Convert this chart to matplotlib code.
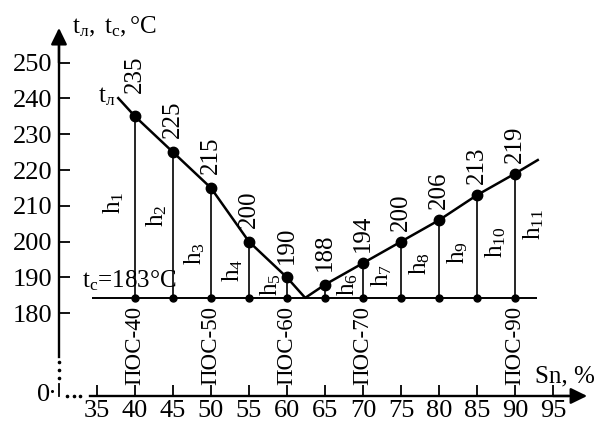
import matplotlib.pyplot as plt

plt.rcParams['font.family'] = 'Liberation Serif'
plt.rcParams['mathtext.fontset'] = 'custom'
plt.rcParams['mathtext.rm'] = 'Liberation Serif'
plt.rcParams['mathtext.it'] = 'Liberation Serif:italic'
plt.rcParams['font.size'] = 18

# composition (% Sn) and liquidus temperatures
sn = [40, 45, 50, 55, 60, 65, 70, 75, 80, 85, 90]
t_liq = [235, 225, 215, 200, 190, 188, 194, 200, 206, 213, 219]
# solidus line as drawn and the eutectic point where the two branches meet
t_sol = 183
t_sol_drawn = 184.3
eut_x = 62.4
# ends of the liquidus branches
liq_start = (37.8, 240.1)
liq_end = (93.0, 222.8)

pos_x = [40, 50, 60, 70, 90]
pos_names = ['ПОС-40', 'ПОС-50', 'ПОС-60', 'ПОС-70', 'ПОС-90']
xticks = list(range(35, 100, 5))
yticks = list(range(180, 260, 10))

fig = plt.figure(figsize=(5.94, 4.23), dpi=100)
ax = fig.add_axes([0, 0, 1, 1])
ax.set_xlim(22.24, 100.4)
ax.set_ylim(149.35, 267.5)

# axes: y axis at Sn=30, x axis at the "0" level (broken scale)
y0 = 156.9
for s in ['top', 'right']:
    ax.spines[s].set_visible(False)
ax.spines['left'].set_position(('data', 30))
ax.spines['bottom'].set_position(('data', y0))
ax.spines['left'].set_bounds(167.8, 256)
ax.spines['bottom'].set_bounds(34.1, 97)
for s in ['left', 'bottom']:
    ax.spines[s].set_linewidth(1.7)
ax.set_xticks(xticks)
ax.set_yticks(yticks)
ax.tick_params(direction='in', length=8, width=1.3, pad=3, labelsize=19)
ax.tick_params(axis='y', pad=5)

arrow = dict(arrowstyle='-|>,head_length=0.45,head_width=0.22', color='k',
             lw=1.7, mutation_scale=22, shrinkA=0, shrinkB=0)
ax.annotate('', xy=(30, 259.7), xytext=(30, 250), arrowprops=arrow)
ax.annotate('', xy=(99.5, y0), xytext=(95, y0), arrowprops=arrow)

# broken parts of the axes
ax.plot([30, 30, 30], [166.4, 164.2, 162.0], 'o', color='k', ms=1.6)
ax.plot([31.05, 32.0, 32.8], [y0] * 3, 'o', color='k', ms=1.6)
ax.plot([30, 30], [y0, 160.3], color='k', lw=1.3)
ax.plot([29.1], [158.3], 'o', color='k', ms=1.2)
ax.text(28.0, 157.2, '0', ha='center', va='center', fontsize=19)

# solidus line, vertical segments and dots
ax.hlines(t_sol_drawn, 34.3, 92.9, color='k', lw=1.4)
ax.vlines(sn, t_sol_drawn, t_liq, color='k', lw=1.2)
ax.plot(sn, [t_sol_drawn] * len(sn), 'o', color='k', ms=5)

# liquidus
lx = [liq_start[0]] + sn[:5] + [eut_x] + sn[5:] + [liq_end[0]]
ly = [liq_start[1]] + t_liq[:5] + [t_sol_drawn] + t_liq[5:] + [liq_end[1]]
ax.plot(lx, ly, color='k', lw=1.8)
ax.plot(sn, t_liq, 'o', color='k', ms=7.5)

for i, (x, t) in enumerate(zip(sn, t_liq)):
    off = 17 if i == 0 else (10 if i < 6 else 8)
    ax.annotate(str(t), (x, t), xytext=(0, off), textcoords='offset points',
                rotation=90, ha='center', va='bottom', fontsize=18)

# h labels
h_y = [211, 207.2, 196.7, 192, 187.9, 187.9, 190.6, 194, 197, 199.7, 204.7]
for i, (x, hy) in enumerate(zip(sn, h_y)):
    if i == 0:
        dx = -2.8
    elif i < 5:
        dx = -2.2
    elif i == 5:
        dx = 3.0
    else:
        dx = 2.4
    ax.text(x + dx, hy, r'$\mathregular{h_{%d}}$' % (i + 1), rotation=90,
            ha='center', va='center', fontsize=18)

for x, name in zip(pos_x, pos_names):
    ax.text(x, 171.1, name, rotation=90, ha='center', va='center', fontsize=16.5)

ax.text(36.3, 240.4, r'$\mathregular{t_{л}}$', ha='center', va='center')
ax.text(33.0, 187.3, r'$\mathregular{t_{c}}$=%d°C' % t_sol, ha='left', va='baseline')
ax.text(31.7, 258.3, r'$\mathregular{t_{л},\ t_{c},}$°C', ha='left', va='baseline')
ax.text(92.6, 160.8, 'Sn, %', ha='left', va='baseline')

fig.savefig('out.png', dpi=100)
